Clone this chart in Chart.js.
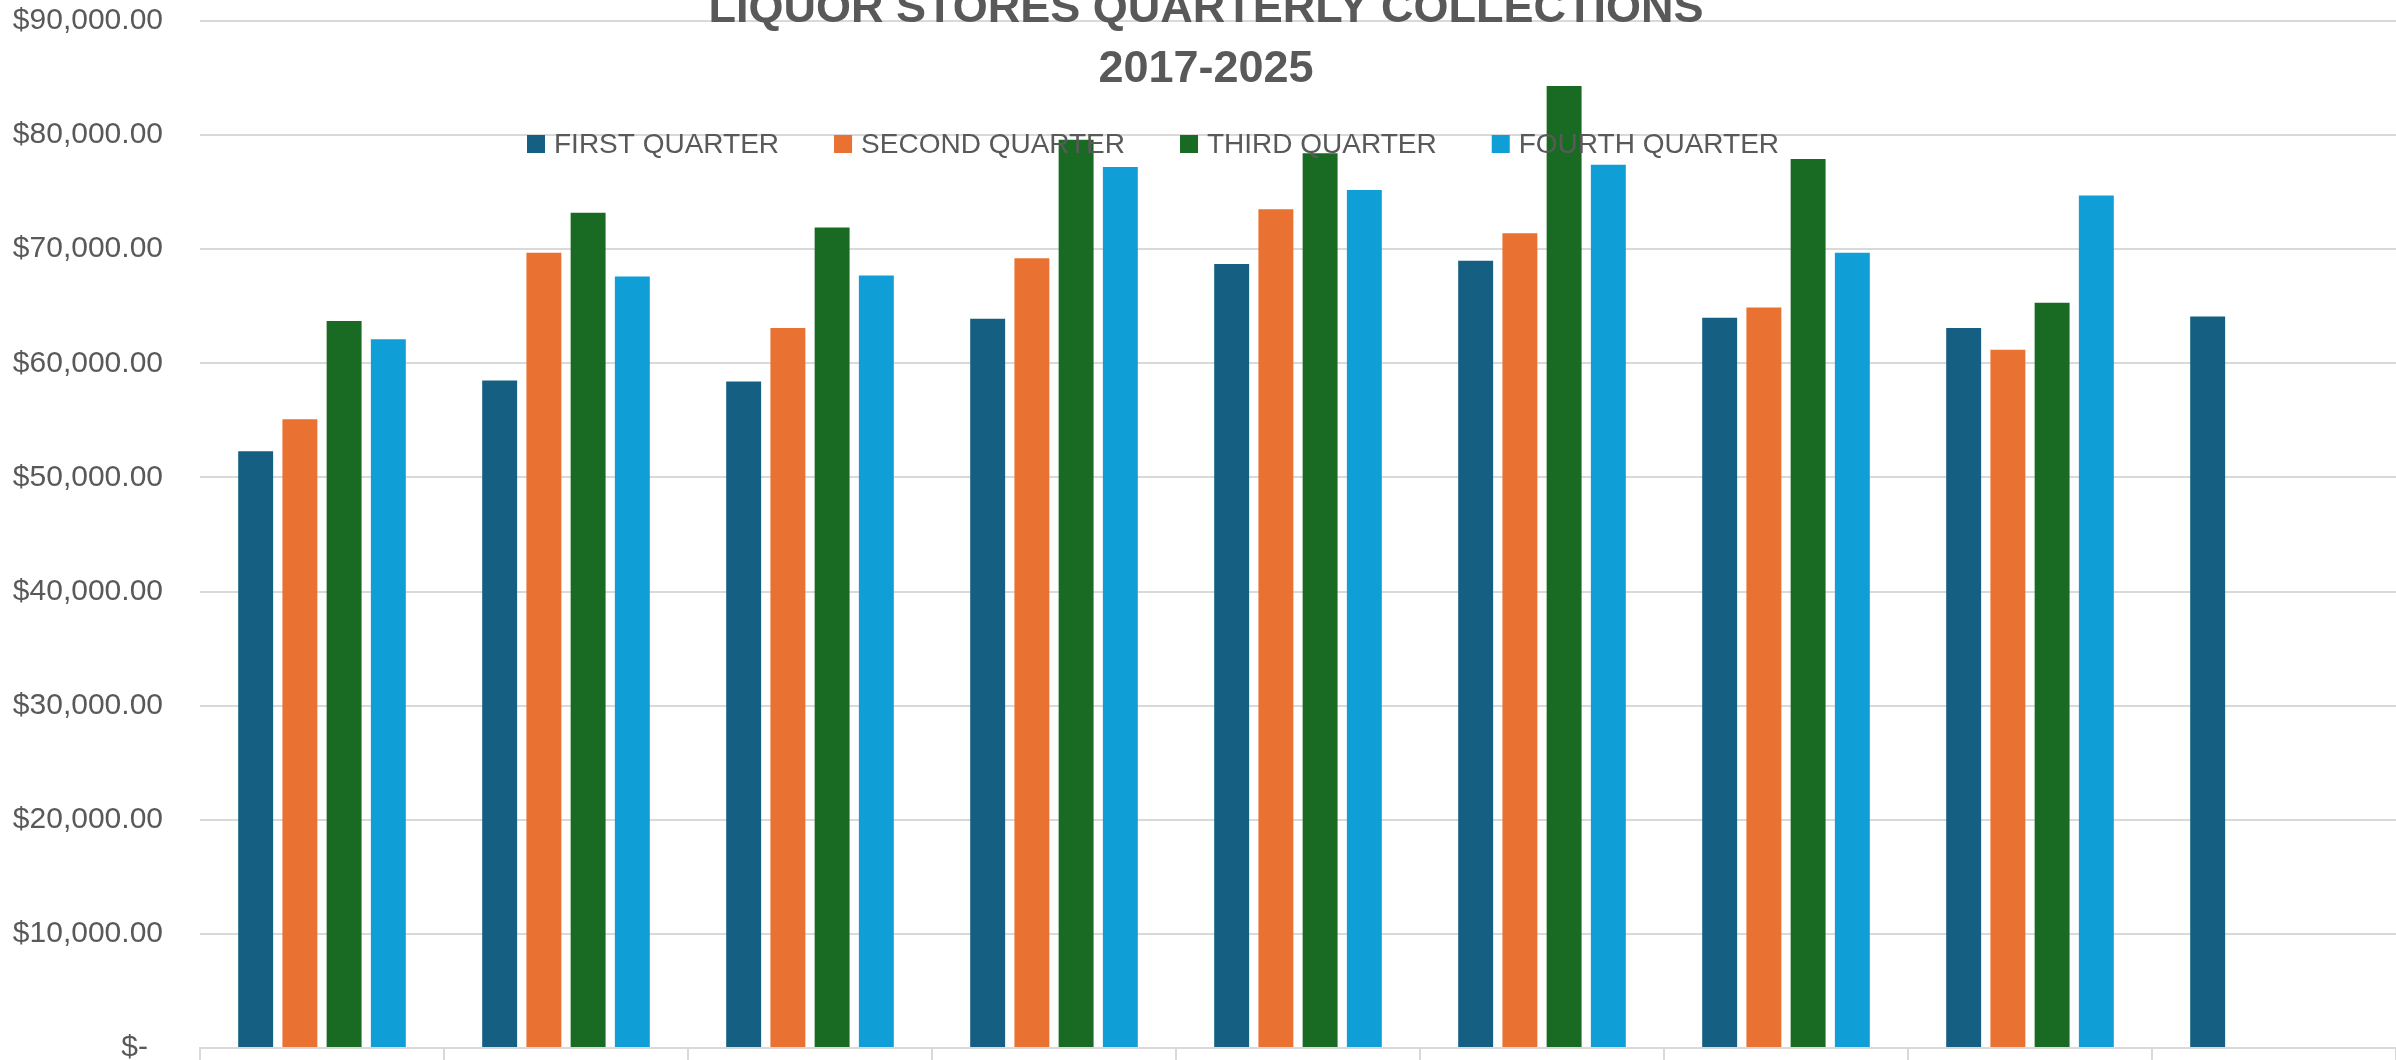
<!DOCTYPE html>
<html>
<head>
<meta charset="utf-8">
<title>Liquor Stores Quarterly Collections</title>
<script src="https://cdn.jsdelivr.net/npm/chart.js@4"></script>
<style>
  html, body { margin: 0; padding: 0; background: #fff; }
  canvas { display: block; }
</style>
</head>
<body>
<canvas id="myChart" width="2396" height="1060"></canvas>
<script>
const ctx = document.getElementById('myChart')

const years = ['2017', '2018', '2019', '2020', '2021', '2022', '2023', '2024', '2025']
const firstQuarter  = [52300, 58500, 58400, 63900, 68700, 69000, 64000, 63100, 64100]
const secondQuarter = [55100, 69700, 63100, 69200, 73500, 71400, 64900, 61200, null]
const thirdQuarter  = [63700, 73200, 71900, 79600, 78400, 84300, 77900, 65300, null]
const fourthQuarter = [62100, 67600, 67700, 77200, 75200, 77400, 69700, 74700, null]
const quarterNames = ['FIRST QUARTER', 'SECOND QUARTER', 'THIRD QUARTER', 'FOURTH QUARTER']
const quarterColors = ['#156082', '#E97132', '#196B24', '#0F9ED5']
const titleLines = ['LIQUOR STORES QUARTERLY COLLECTIONS', '2017-2025']

const textColor = '#595959'
const gridColor = '#d9d9d9'
const fontFamily = '"Liberation Sans", Arial, sans-serif'

const money = v => v === 0 ? '$-\u2002' : '$' + v.toLocaleString('en-US', { minimumFractionDigits: 2, maximumFractionDigits: 2 })

// title sits partly above the plot, legend is painted over the bars
const overlayText = {
  id: 'overlayText',
  afterDraw(chart) {
    const c = chart.ctx
    c.save()
    c.fillStyle = textColor
    c.textAlign = 'center'
    c.textBaseline = 'alphabetic'
    c.font = 'bold 45px ' + fontFamily
    c.fillText(titleLines[0], 1206, 22)
    c.fillText(titleLines[1], 1206, 82)

    c.font = '28px ' + fontFamily
    c.textAlign = 'left'
    let x = 527
    chart.data.datasets.forEach(ds => {
      c.fillStyle = ds.backgroundColor
      c.fillRect(x, 135, 18, 18)
      c.fillStyle = textColor
      c.fillText(ds.label, x + 27, 153)
      x += 27 + c.measureText(ds.label).width + 55
    })
    c.restore()
  }
}

const series = [firstQuarter, secondQuarter, thirdQuarter, fourthQuarter]

const myChart = new Chart(ctx, {
  type: 'bar',
  data: {
    labels: years,
    datasets: series.map((d, i) => ({
      label: quarterNames[i],
      data: d,
      backgroundColor: quarterColors[i],
      borderWidth: 0,
      categoryPercentage: 0.725,
      barPercentage: 0.79
    }))
  },
  options: {
    responsive: false,
    animation: false,
    devicePixelRatio: 1,
    layout: { padding: { top: 21, right: 0, bottom: 0, left: 0 } },
    plugins: {
      legend: { display: false },
      title: { display: false },
      tooltip: { enabled: false }
    },
    scales: {
      x: {
        offset: true,
        grid: {
          offset: true,
          drawOnChartArea: false,
          drawTicks: true,
          tickLength: 12,
          color: gridColor,
          lineWidth: 2
        },
        border: { display: true, color: gridColor, width: 2 },
        ticks: { display: false }
      },
      y: {
        min: 0,
        max: 90000,
        afterFit: axis => {
          axis.width = 200
          // labels may hang past the plot edges
          axis.paddingTop = 0
          axis.paddingBottom = 0
        },
        grid: { color: gridColor, lineWidth: 2, drawTicks: false },
        border: { display: false },
        ticks: {
          stepSize: 10000,
          padding: 37,
          color: textColor,
          font: { family: fontFamily, size: 30 },
          callback: v => money(v)
        }
      }
    }
  },
  plugins: [overlayText]
})
</script>
</body>
</html>
